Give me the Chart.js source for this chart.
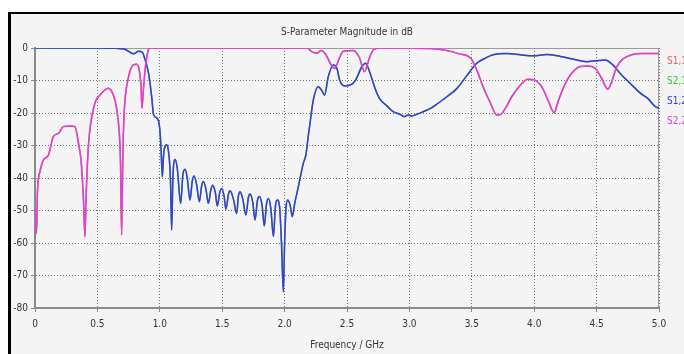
<!DOCTYPE html>
<html>
<head>
<meta charset="utf-8">
<script src="https://cdn.jsdelivr.net/npm/chart.js@4.4.1/dist/chart.umd.min.js"></script>
<style>
  html, body { margin: 0; padding: 0; background: #fff; overflow: hidden; width: 684px; height: 354px; }
  #frame { position: absolute; left: 8px; top: 12px; width: 700px; height: 360px;
           border-left: 3px solid #000; border-top: 2px solid #000; background: #f4f4f4; }
  #wrap { position: absolute; left: 0; top: 0; width: 720px; height: 354px; }
</style>
</head>
<body>
<div id="frame"></div>
<div id="wrap"><canvas id="sparam" width="720" height="354"></canvas></div>
<script>
  // S1,2 (transmission)
  const s12Freq = [0, 0.5, 0.65, 0.72, 0.79, 0.83, 0.86, 0.88, 0.91, 0.935, 0.95, 0.975, 0.99, 1.0, 1.01, 1.02, 1.03, 1.045, 1.055, 1.07, 1.085, 1.095, 1.105, 1.122, 1.14, 1.167, 1.185, 1.202, 1.22, 1.242, 1.26, 1.274, 1.295, 1.317, 1.335, 1.349, 1.37, 1.389, 1.41, 1.424, 1.445, 1.461, 1.48, 1.496, 1.515, 1.53, 1.55, 1.563, 1.59, 1.616, 1.63, 1.643, 1.665, 1.69, 1.71, 1.723, 1.745, 1.763, 1.782, 1.797, 1.82, 1.837, 1.855, 1.87, 1.89, 1.91, 1.927, 1.942, 1.96, 1.975, 1.99, 2.0, 2.012, 2.025, 2.045, 2.062, 2.08, 2.11, 2.15, 2.17, 2.19, 2.2, 2.23, 2.27, 2.3, 2.32, 2.35, 2.39, 2.42, 2.44, 2.48, 2.54, 2.57, 2.62, 2.65, 2.68, 2.72, 2.76, 2.82, 2.87, 2.92, 2.96, 2.99, 3.02, 3.06, 3.11, 3.17, 3.23, 3.3, 3.38, 3.46, 3.54, 3.61, 3.67, 3.78, 3.89, 3.99, 4.1, 4.21, 4.31, 4.42, 4.5, 4.57, 4.63, 4.7, 4.77, 4.85, 4.91, 4.97, 5.0];
  const s12Db = [0, 0, -0.1, -0.4, -1.8, -1.0, -1.3, -3.3, -7.8, -15, -20.5, -21.5, -22.5, -25, -31, -39.6, -33, -30, -29.8, -32, -40, -56, -40, -34.3, -37, -47.8, -39, -37.3, -40, -46.8, -41, -39.4, -42, -47.3, -42.5, -41.1, -43.5, -47.8, -43.5, -42.2, -44.5, -48.6, -44.5, -43.2, -45.5, -49.6, -45, -43.9, -46.5, -50.9, -45.5, -44.2, -46.5, -51.4, -46, -44.9, -47.5, -52.9, -47, -45.7, -48.5, -54.8, -48, -46.3, -49.5, -58, -48.5, -46.8, -49, -60, -75, -60, -49, -46.8, -48.5, -51.9, -48, -42.7, -35.5, -33, -27, -24.2, -16, -11.9, -13.2, -14.5, -8.8, -5.2, -6.3, -9.8, -11.7, -11.1, -9.8, -5.7, -4.7, -7.2, -11.9, -15.5, -17.8, -19.6, -20.3, -21.1, -20.6, -20.9, -20.4, -19.6, -18.6, -17, -15, -12.5, -8.5, -4.7, -3.1, -2.1, -1.7, -2.1, -2.4, -2.0, -2.6, -3.4, -4.2, -3.9, -3.7, -5.2, -8.3, -10.9, -13.9, -15.5, -18, -18.5];

  // S2,2 (reflection)
  const s22Freq = [0, 0.005, 0.012, 0.02, 0.04, 0.067, 0.107, 0.147, 0.19, 0.227, 0.28, 0.32, 0.347, 0.37, 0.39, 0.4, 0.41, 0.425, 0.44, 0.48, 0.52, 0.587, 0.627, 0.654, 0.675, 0.685, 0.694, 0.703, 0.712, 0.725, 0.75, 0.787, 0.815, 0.836, 0.85, 0.857, 0.868, 0.887, 0.905, 0.92, 2.18, 2.22, 2.26, 2.29, 2.33, 2.37, 2.4, 2.44, 2.47, 2.55, 2.6, 2.64, 2.68, 2.71, 2.76, 3.2, 3.3, 3.4, 3.49, 3.54, 3.59, 3.65, 3.7, 3.73, 3.77, 3.82, 3.89, 3.95, 4.0, 4.06, 4.11, 4.16, 4.19, 4.25, 4.3, 4.37, 4.43, 4.49, 4.54, 4.59, 4.62, 4.66, 4.71, 4.78, 4.87, 5.0];
  const s22Db = [-50, -55, -57, -44, -38, -34.5, -33, -27.3, -26.2, -24.2, -24, -24.2, -29, -35, -48, -58, -45, -32, -25, -17, -14.5, -12.4, -14.4, -18.5, -26, -35, -57.5, -35, -22, -14.5, -8.8, -5.2, -5, -7, -12, -18.5, -13, -5, -1, 0, 0, -1.2, -1.6, -0.8, -2, -5, -6.3, -3, -1, -0.8, -3, -7.3, -3, -0.6, 0, -0.2, -0.8, -1.8, -3.1, -6.8, -11.9, -17, -20.6, -20.5, -18.5, -15, -11.4, -9.6, -9.8, -11.9, -16, -19.9, -16.6, -10.9, -7.8, -5.7, -5.5, -6.3, -9.3, -12.7, -10.5, -5.9, -3.4, -2.1, -1.7, -1.7];

  const seriesLabels = ['S1,1', 'S2,1', 'S1,2', 'S2,2'];
  const seriesColors = ['#e2606a', '#3fbf3f', '#3c3cd8', '#dc44d4'];

  const FONT = "'Liberation Sans Narrow', 'DejaVu Sans Condensed', sans-serif";

  function toPoints(xs, ys) {
    return xs.map((x, i) => ({ x: x, y: ys[i] }));
  }

  // reciprocal, symmetric: S1,1 sits under S2,2 and S2,1 under S1,2
  const curves = [
    toPoints(s22Freq, s22Db),
    toPoints(s12Freq, s12Db),
    toPoints(s12Freq, s12Db),
    toPoints(s22Freq, s22Db)
  ];
  const drawOrder = [3, 2, 1, 0];

  const decor = {
    id: 'decor',
    beforeDatasetsDraw(chart) {
      const { ctx, chartArea: a } = chart;
      ctx.save();
      ctx.strokeStyle = '#9a9a9a';
      ctx.lineWidth = 1;
      ctx.beginPath();
      ctx.moveTo(a.left, a.top + 0.5);
      ctx.lineTo(a.right - 0.5, a.top + 0.5);
      ctx.lineTo(a.right - 0.5, a.bottom);
      ctx.stroke();
      ctx.restore();
    },
    afterDraw(chart) {
      const { ctx, chartArea: a } = chart;
      ctx.save();
      ctx.font = '10px ' + FONT;
      ctx.textBaseline = 'middle';
      ctx.textAlign = 'center';
      ctx.fillStyle = '#333';
      ctx.fillText('S-Parameter Magnitude in dB', (a.left + a.right) / 2, 32);
      ctx.textAlign = 'left';
      seriesLabels.forEach((lab, i) => {
        ctx.fillStyle = seriesColors[i];
        ctx.fillText(lab, 667, 61 + i * 20);
      });
      ctx.restore();
    }
  };

  const chart = new Chart(document.getElementById('sparam'), {
    type: 'line',
    data: {
      datasets: seriesLabels.map((lab, i) => ({
        label: lab,
        data: curves[i],
        borderColor: seriesColors[i],
        backgroundColor: seriesColors[i],
        borderWidth: 1.5,
        pointRadius: 0,
        cubicInterpolationMode: 'monotone',
        order: drawOrder[i]
      }))
    },
    options: {
      responsive: false,
      animation: false,
      layout: { padding: { top: 48, right: 61, left: 0, bottom: 0 } },
      plugins: { legend: { display: false }, title: { display: false }, tooltip: { enabled: false } },
      scales: {
        x: {
          type: 'linear', min: 0, max: 5,
          afterFit(s) { s.height = 46; },
          ticks: { stepSize: 0.5, maxRotation: 0, autoSkip: false, color: '#333', padding: 6,
                   font: { family: FONT, size: 10 } },
          grid: { color: '#707070', lineWidth: 1, tickLength: 4, tickColor: '#888' },
          border: { color: '#8a8a8a', width: 2, dash: [1, 2] },
          title: { display: true, text: 'Frequency / GHz', color: '#333',
                   font: { family: FONT, size: 10 }, padding: { top: 0, bottom: 3 } }
        },
        y: {
          min: -80, max: 0,
          afterFit(s) { s.width = 35; },
          ticks: { stepSize: 10, color: '#333', padding: 3, font: { family: FONT, size: 10 } },
          grid: { color: '#707070', lineWidth: 1, tickLength: 4, tickColor: '#888' },
          border: { color: '#8a8a8a', width: 2, dash: [1, 2] }
        }
      }
    },
    plugins: [decor]
  });
</script>
</body>
</html>
